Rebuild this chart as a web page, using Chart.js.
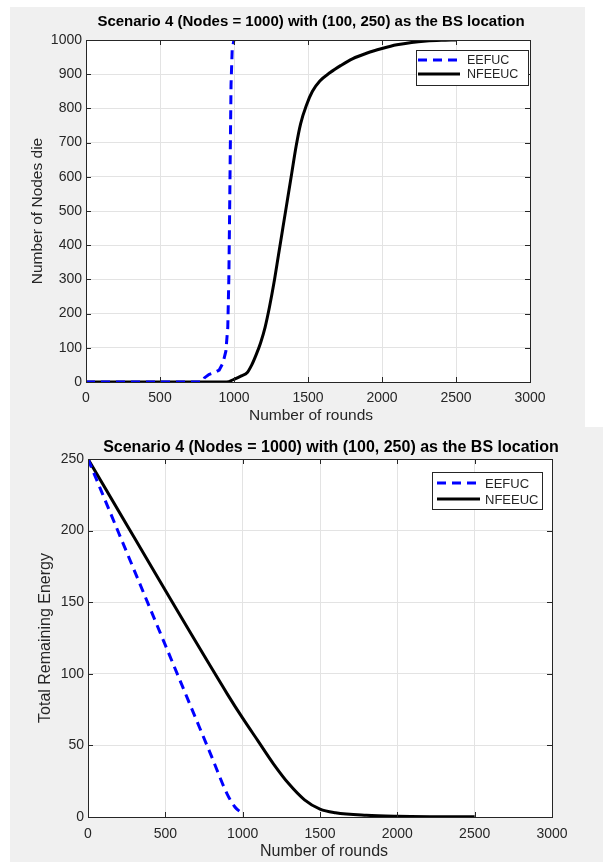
<!DOCTYPE html>
<html>
<head>
<meta charset="utf-8">
<script src="https://cdn.jsdelivr.net/npm/chart.js@4.4.1/dist/chart.umd.min.js"></script>
<style>
    body { margin: 0; background: #ffffff; width: 603px; height: 862px; position: relative; overflow: hidden; }
    .panel { position: absolute; background: #f0f0f0; }
    #panelTop { left: 10px; top: 7px; width: 575px; height: 420px; }
    #panelBottom { left: 10px; top: 427px; width: 593px; height: 435px; }
    canvas { display: block; }
</style>
</head>
<body>
<div class="panel" id="panelTop"><canvas id="chartTop" width="575" height="420"></canvas></div>
<div class="panel" id="panelBottom"><canvas id="chartBottom" width="593" height="435"></canvas></div>
<script>
// ---- data ----
const seriesNames = ['EEFUC', 'NFEEUC'];
const roundTicks = [0, 500, 1000, 1500, 2000, 2500, 3000];

// Top: number of dead nodes per round
const deadTicks = [0, 100, 200, 300, 400, 500, 600, 700, 800, 900, 1000];
const deadEefucRounds = [0, 785, 800, 830, 870, 900, 925, 945, 958, 965, 970, 975, 980, 988, 1000];
const deadEefucNodes = [0, 0, 12, 22, 28, 35, 55, 90, 160, 300, 480, 680, 870, 975, 1000];
const deadNfeeucRounds = [0, 950, 1000, 1050, 1090, 1120, 1150, 1180, 1210, 1240, 1270, 1300, 1330, 1360, 1390,
    1420, 1450, 1490, 1530, 1580, 1650, 1720, 1800, 1900, 2000, 2100, 2200, 2300, 2400, 2500];
const deadNfeeucNodes = [0, 0, 8, 18, 28, 50, 80, 115, 160, 220, 290, 370, 450, 530, 610,
    690, 755, 810, 850, 880, 905, 925, 945, 962, 975, 986, 993, 997, 999, 1000];

// Bottom: total remaining energy per round
const energyTicks = [0, 50, 100, 150, 200, 250];
const energyEefucRounds = [0, 200, 400, 600, 700, 800, 900, 950, 980, 1000];
const energyEefucValues = [250, 198, 146, 94, 68, 42, 16, 7, 4, 3];
const energyNfeeucRounds = [0, 900, 1000, 1100, 1200, 1300, 1400, 1500, 1600, 1800, 2000, 2250, 2500];
const energyNfeeucValues = [250, 86, 69, 53, 37, 23, 12, 5.5, 3, 1.2, 0.5, 0.2, 0.1];

const FONT = "'Liberation Sans', Arial, Helvetica, sans-serif";
const INK = '#262626';

function toPoints(xs, ys) {
    return xs.map((x, i) => ({ x: x, y: ys[i] }));
}

// MATLAB-like frame: white axes, box, inward ticks, titles, boxed legend
const matlabFrame = {
    id: 'matlabFrame',
    beforeDraw(chart) {
        const { ctx, chartArea: a } = chart;
        ctx.save();
        ctx.fillStyle = '#ffffff';
        ctx.fillRect(a.left, a.top, a.right - a.left, a.bottom - a.top);
        ctx.restore();
    },
    afterDraw(chart, args, o) {
        const { ctx, chartArea: a, scales } = chart;
        ctx.save();
        ctx.strokeStyle = INK;
        ctx.lineWidth = 1;

        // inward tick marks on all four sides
        ctx.beginPath();
        scales.x.ticks.forEach(t => {
            const px = Math.round(scales.x.getPixelForValue(t.value)) + 0.5;
            ctx.moveTo(px, a.bottom); ctx.lineTo(px, a.bottom - 5);
            ctx.moveTo(px, a.top); ctx.lineTo(px, a.top + 5);
        });
        scales.y.ticks.forEach(t => {
            const py = Math.round(scales.y.getPixelForValue(t.value)) + 0.5;
            ctx.moveTo(a.left, py); ctx.lineTo(a.left + 5, py);
            ctx.moveTo(a.right, py); ctx.lineTo(a.right - 5, py);
        });
        ctx.stroke();

        // axes box
        ctx.strokeRect(Math.round(a.left) + 0.5, Math.round(a.top) + 0.5,
            Math.round(a.right - a.left), Math.round(a.bottom - a.top));

        // title
        ctx.fillStyle = '#000000';
        ctx.textAlign = 'center';
        ctx.textBaseline = 'middle';
        ctx.font = 'bold ' + o.titleSize + 'px ' + FONT;
        ctx.fillText(o.title, o.titleX, o.titleY);

        // axis labels
        ctx.fillStyle = INK;
        ctx.font = o.labelSize + 'px ' + FONT;
        ctx.fillText(o.xLabel, o.xLabelX, o.xLabelY);
        ctx.save();
        ctx.translate(o.yLabelX, o.yLabelY);
        ctx.rotate(-Math.PI / 2);
        ctx.fillText(o.yLabel, 0, 0);
        ctx.restore();

        // legend
        const L = o.legend;
        ctx.fillStyle = '#ffffff';
        ctx.fillRect(L.left, L.top, L.width, L.height);
        ctx.strokeStyle = INK;
        ctx.lineWidth = 1;
        ctx.strokeRect(L.left + 0.5, L.top + 0.5, L.width, L.height);
        ctx.textAlign = 'left';
        ctx.font = o.legendSize + 'px ' + FONT;
        chart.data.datasets.forEach((ds, i) => {
            const y = L.firstRow + i * L.rowGap;
            ctx.strokeStyle = ds.borderColor;
            ctx.lineWidth = ds.borderWidth;
            ctx.setLineDash(ds.borderDash || []);
            ctx.beginPath();
            ctx.moveTo(L.lineX0, y);
            ctx.lineTo(L.lineX1, y);
            ctx.stroke();
            ctx.setLineDash([]);
            ctx.fillStyle = INK;
            ctx.fillText(ds.label, L.textX, y + 1);
        });
        ctx.restore();
    }
};

function makeChart(canvasId, datasets, yMax, yTicks, frame) {
    return new Chart(document.getElementById(canvasId), {
        type: 'line',
        data: { datasets: datasets },
        options: {
            responsive: false,
            animation: false,
            devicePixelRatio: 1,
            layout: { padding: frame.padding },
            plugins: {
                legend: { display: false },
                tooltip: { enabled: false },
                matlabFrame: frame
            },
            scales: {
                x: {
                    type: 'linear',
                    min: 0,
                    max: 3000,
                    afterBuildTicks: s => { s.ticks = roundTicks.map(v => ({ value: v })); },
                    afterFit: s => { s.height = frame.xAxisHeight; },
                    grid: { color: '#e3e3e3', drawTicks: false },
                    border: { display: false },
                    ticks: {
                        padding: frame.xTickPad,
                        color: INK,
                        maxRotation: 0,
                        callback: v => String(v),
                        font: { family: FONT, size: frame.tickSize }
                    }
                },
                y: {
                    type: 'linear',
                    min: 0,
                    max: yMax,
                    afterBuildTicks: s => { s.ticks = yTicks.map(v => ({ value: v })); },
                    afterFit: s => { s.width = frame.yAxisWidth; },
                    grid: { color: '#e3e3e3', drawTicks: false },
                    border: { display: false },
                    ticks: {
                        padding: 4,
                        color: INK,
                        callback: v => String(v),
                        font: { family: FONT, size: frame.tickSize }
                    }
                }
            }
        },
        plugins: [matlabFrame]
    });
}

function seriesStyle(i) {
    return i === 0
        ? { borderColor: '#0000ff', borderWidth: 3, borderDash: [9, 6] }
        : { borderColor: '#000000', borderWidth: 3, borderDash: [] };
}

const titleText = 'Scenario 4 (Nodes = 1000) with (100, 250) as the BS location';

makeChart('chartTop', [
    Object.assign({ label: seriesNames[0], data: toPoints(deadEefucRounds, deadEefucNodes),
        pointRadius: 0, tension: 0, fill: false }, seriesStyle(0)),
    Object.assign({ label: seriesNames[1], data: toPoints(deadNfeeucRounds, deadNfeeucNodes),
        pointRadius: 0, cubicInterpolationMode: 'monotone', fill: false }, seriesStyle(1))
], 1000, deadTicks, {
    padding: { top: 33, right: 55, left: 0, bottom: 0 },
    yAxisWidth: 76,
    xAxisHeight: 45,
    xTickPad: 8,
    tickSize: 14,
    title: titleText, titleSize: 15, titleX: 301, titleY: 15,
    labelSize: 15.5,
    xLabel: 'Number of rounds', xLabelX: 301, xLabelY: 409,
    yLabel: 'Number of Nodes die', yLabelX: 28, yLabelY: 204,
    legendSize: 12.5,
    legend: { left: 406, top: 43, width: 112, height: 35, firstRow: 53, rowGap: 14, lineX0: 408, lineX1: 450, textX: 457 }
});

makeChart('chartBottom', [
    Object.assign({ label: seriesNames[0], data: toPoints(energyEefucRounds, energyEefucValues),
        pointRadius: 0, cubicInterpolationMode: 'monotone', fill: false }, seriesStyle(0)),
    Object.assign({ label: seriesNames[1], data: toPoints(energyNfeeucRounds, energyNfeeucValues),
        pointRadius: 0, cubicInterpolationMode: 'monotone', fill: false }, seriesStyle(1))
], 250, energyTicks, {
    padding: { top: 32, right: 51, left: 0, bottom: 0 },
    yAxisWidth: 78,
    xAxisHeight: 45,
    xTickPad: 9,
    tickSize: 14,
    title: titleText, titleSize: 16, titleX: 321, titleY: 21,
    labelSize: 16,
    xLabel: 'Number of rounds', xLabelX: 314, xLabelY: 425,
    yLabel: 'Total Remaining Energy', yLabelX: 36, yLabelY: 211,
    legendSize: 13,
    legend: { left: 422, top: 45, width: 110, height: 37, firstRow: 56, rowGap: 16, lineX0: 427, lineX1: 470, textX: 475 }
});
</script>
</body>
</html>
